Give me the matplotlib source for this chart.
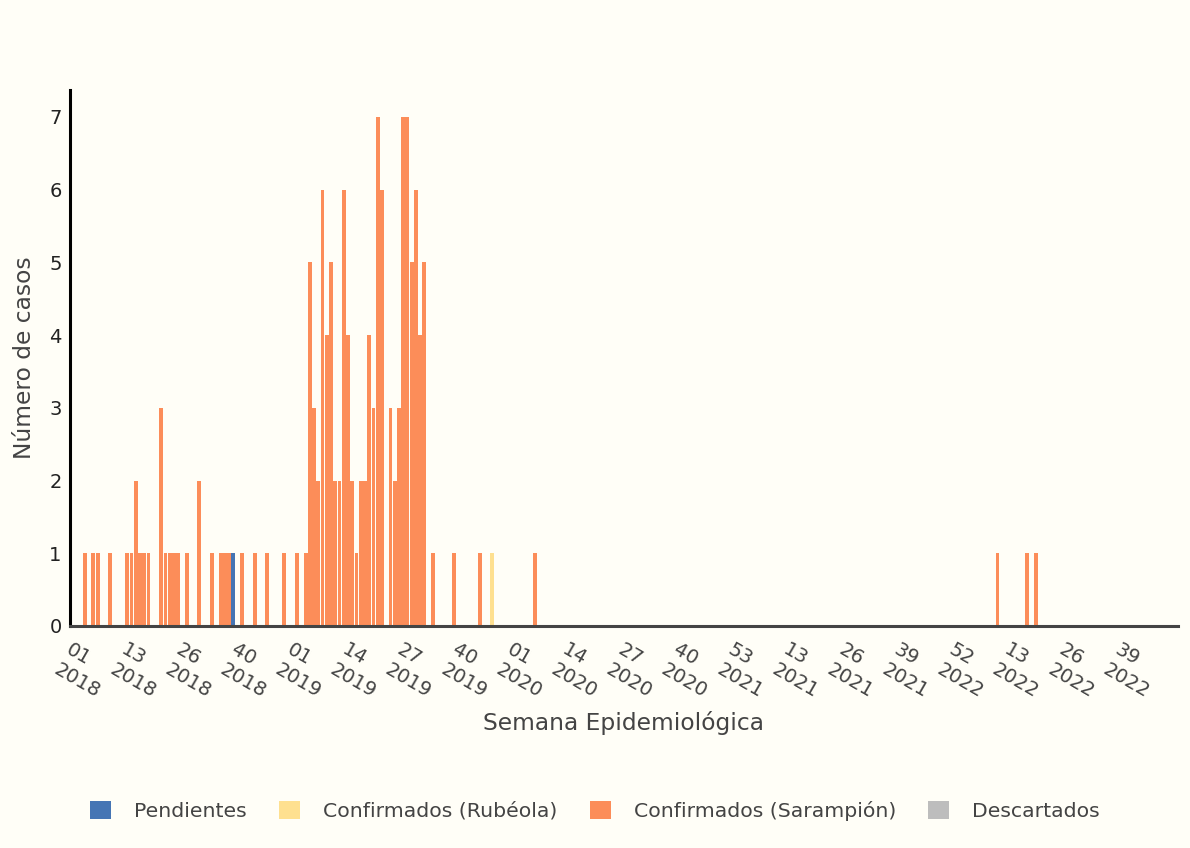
import numpy as np
import matplotlib
matplotlib.use("Agg")
import matplotlib.pyplot as plt
from matplotlib.patches import Patch

# semanas epidemiologicas 2018-2022 (2020 tiene 53)
semanas_por_anio = {2018: 52, 2019: 52, 2020: 53, 2021: 52, 2022: 52}
semanas = []
for anio, n in semanas_por_anio.items():
    for s in range(1, n + 1):
        semanas.append("%d-%02d" % (anio, s))

# casos por semana (solo semanas con casos)
pendientes_sem = ["2018-39"]
pendientes_val = [1]

rubeola_sem = ["2019-48"]
rubeola_val = [1]

sarampion_sem = ["2018-04", "2018-06", "2018-07", "2018-10", "2018-14", "2018-15",
                 "2018-16", "2018-17", "2018-18", "2018-19", "2018-22", "2018-23",
                 "2018-24", "2018-25", "2018-26", "2018-28", "2018-31", "2018-34",
                 "2018-36", "2018-37", "2018-38", "2018-41", "2018-44", "2018-47",
                 "2018-51",
                 "2019-02", "2019-04", "2019-05", "2019-06", "2019-07", "2019-08",
                 "2019-09", "2019-10", "2019-11", "2019-12", "2019-13", "2019-14",
                 "2019-15", "2019-16", "2019-17", "2019-18", "2019-19", "2019-20",
                 "2019-21", "2019-22", "2019-24", "2019-25", "2019-26", "2019-27",
                 "2019-28", "2019-29", "2019-30", "2019-31", "2019-32", "2019-34",
                 "2019-39", "2019-45",
                 "2020-06",
                 "2022-10", "2022-17", "2022-19"]
sarampion_val = [1, 1, 1, 1, 1, 1,
                 2, 1, 1, 1, 3, 1,
                 1, 1, 1, 1, 2, 1,
                 1, 1, 1, 1, 1, 1,
                 1,
                 1, 1, 5, 3, 2, 6,
                 4, 5, 2, 2, 6, 4,
                 2, 1, 2, 2, 4, 3,
                 7, 6, 3, 2, 3, 7,
                 7, 5, 6, 4, 5, 1,
                 1, 1,
                 1,
                 1, 1, 1]

descartados_sem = []
descartados_val = []

tick_labels = ["01\n2018", "13\n2018", "26\n2018", "40\n2018", "01\n2019", "14\n2019",
               "27\n2019", "40\n2019", "01\n2020", "14\n2020", "27\n2020", "40\n2020",
               "53\n2021", "13\n2021", "26\n2021", "39\n2021", "52\n2022", "13\n2022",
               "26\n2022", "39\n2022"]


def serie(sem, val):
    out = np.zeros(len(semanas))
    for s, v in zip(sem, val):
        out[semanas.index(s)] = v
    return out


series = [
    ("Pendientes", serie(pendientes_sem, pendientes_val), "#4575b4"),
    ("Confirmados (Rubéola)", serie(rubeola_sem, rubeola_val), "#fee090"),
    ("Confirmados (Sarampión)", serie(sarampion_sem, sarampion_val), "#fc8d59"),
    ("Descartados", serie(descartados_sem, descartados_val), "#bdbdbd"),
]

bg = "#fffef7"
fig = plt.figure(figsize=(11.9, 8.48), dpi=100, facecolor=bg)
ax = fig.add_axes([0.0588, 0.2618, 0.931, 0.632])
ax.set_facecolor(bg)

x = np.arange(len(semanas))
bottom = np.zeros(len(semanas))
for nombre, vals, color in series:
    ax.bar(x, vals, width=0.92, bottom=bottom, color=color, linewidth=0)
    bottom += vals

ax.set_xlim(-0.5, len(semanas) - 0.5)
ax.set_ylim(0, 7.368)

ax.set_xticks(np.arange(0, 13 * len(tick_labels), 13))
ax.set_xticklabels(tick_labels, rotation=-30, ha="left", va="top",
                   rotation_mode="anchor", fontsize=14.2, color="#444444",
                   linespacing=1.3)
ax.set_yticks(range(8))
ax.tick_params(axis="y", length=0, pad=6, labelsize=14, labelcolor="#222222")
ax.tick_params(axis="x", length=0, pad=10)

for s in ["top", "right"]:
    ax.spines[s].set_visible(False)
ax.spines["left"].set_color("black")
ax.spines["left"].set_linewidth(2.2)
ax.spines["bottom"].set_color("#444444")
ax.spines["bottom"].set_linewidth(2.2)

ax.set_xlabel("Semana Epidemiológica", fontsize=16.8, color="#444444")
ax.xaxis.set_label_coords(0.5, -0.158)
ax.set_ylabel("Número de casos", fontsize=16.8, color="#444444")
ax.yaxis.set_label_coords(-0.031, 0.5)

handles = [Patch(facecolor=c, edgecolor="none") for _, _, c in series]
leg = fig.legend(handles, [n for n, _, _ in series], loc="center",
                 bbox_to_anchor=(0.5, 0.044), ncol=4, frameon=False,
                 handlelength=1.03, handleheight=1.03, handletextpad=1.13,
                 columnspacing=1.57, fontsize=14.7)
for t in leg.get_texts():
    t.set_color("#444444")

fig.savefig("out.png", dpi=100, facecolor=bg)
